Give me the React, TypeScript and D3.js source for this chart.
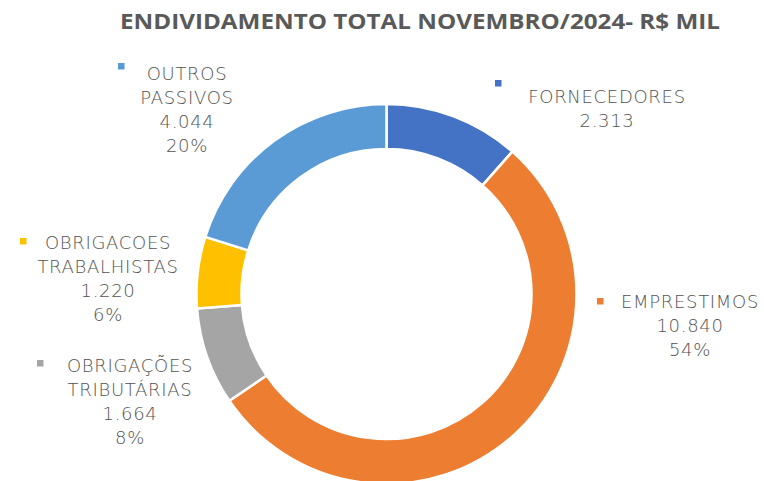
import React from "react";
import * as d3 from "d3";

const categories = ["FORNECEDORES", "EMPRESTIMOS", "OBRIGAÇÕES TRIBUTÁRIAS", "OBRIGACOES TRABALHISTAS", "OUTROS PASSIVOS"];
const values = [2313, 10840, 1664, 1220, 4044];
const valueLabels = ["2.313", "10.840", "1.664", "1.220", "4.044"];
const percentLabels = ["", "54%", "8%", "6%", "20%"];
const nameLines = [["FORNECEDORES"], ["EMPRESTIMOS"], ["OBRIGAÇÕES", "TRIBUTÁRIAS"], ["OBRIGACOES", "TRABALHISTAS"], ["OUTROS", "PASSIVOS"]];
const colors = ["#4472C4", "#ED7D31", "#A5A5A5", "#FFC000", "#5B9BD5"];
const title = "ENDIVIDAMENTO TOTAL NOVEMBRO/2024- R$ MIL";

// label layout: block center x, first line center y, marker position
const labelLayout = [
  { cx: 607, y: 97, mx: 495, my: 80 },
  { cx: 690, y: 302, mx: 597, my: 298 },
  { cx: 130, y: 366, mx: 37, my: 360 },
  { cx: 108, y: 243, mx: 20, my: 238 },
  { cx: 187, y: 74, mx: 118, my: 63 },
];

const W = 764, H = 481;
const CX = 386.5, CY = 294, R_OUT = 190, R_IN = 145;

export default function App() {
  const pie = d3.pie<number>().value((d) => d).sort(null).startAngle(0).endAngle(2 * Math.PI);
  const arcs = pie(values);
  const arc = d3.arc<d3.PieArcDatum<number>>().innerRadius(R_IN).outerRadius(R_OUT);
  const font = "'DejaVu Sans', sans-serif";
  const lh = 24;
  return (
    <svg width={W} height={H} style={{ position: "absolute", left: 0, top: 0, background: "#fff" }}>
      <text x={420} y={29} textAnchor="middle" fontFamily="'Open Sans', sans-serif" fontWeight={700} fontSize={22} fill="#595959" textLength={600} lengthAdjust="spacingAndGlyphs">{title}</text>
      <g transform={`translate(${CX},${CY})`}>
        {arcs.map((a, i) => (
          <path key={categories[i]} d={arc(a) || ""} fill={colors[i]} stroke="#fff" strokeWidth={2.5} />
        ))}
      </g>
      {labelLayout.map((L, i) => {
        const lines = [...nameLines[i], valueLabels[i]];
        if (percentLabels[i]) lines.push(percentLabels[i]);
        return (
          <g key={i}>
            <rect x={L.mx} y={L.my} width={6.5} height={6.5} fill={colors[i]} />
            {lines.map((t, j) => (
              <text key={j} x={L.cx} y={L.y + j * lh} dy="0.35em" textAnchor="middle" fontFamily={font} fontWeight={200} fontSize={18} letterSpacing={0.7} fill="#525252">{t}</text>
            ))}
          </g>
        );
      })}
    </svg>
  );
}
